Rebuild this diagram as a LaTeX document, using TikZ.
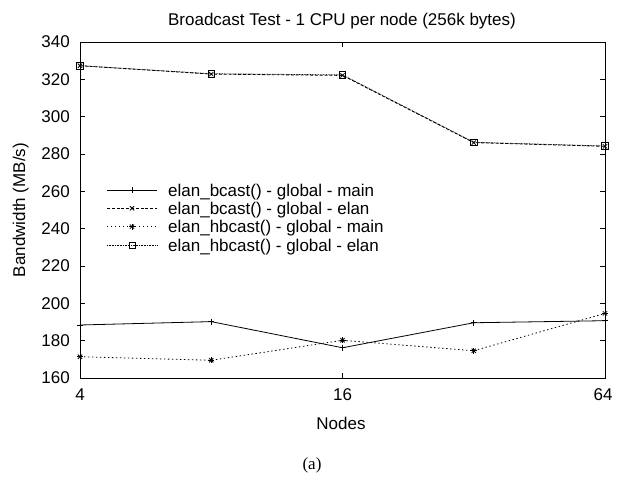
\documentclass[tikz,border=0pt]{standalone}
\usepackage{fontspec}
\setmainfont{Liberation Sans}
\newfontfamily\capfont{Liberation Serif}
\usetikzlibrary{plotmarks}
\tikzset{
  frame/.style={line width=0.9pt, black},
  tickline/.style={line width=0.7pt, black},
  lab/.style={inner sep=0pt, font=\fontsize{17}{20}\selectfont},
  sbm/.style={line width=0.8pt},
  sbe/.style={line width=0.8pt, dash pattern=on 3pt off 1.8pt},
  shm/.style={line width=0.8pt, dash pattern=on 1.4pt off 2.6pt},
  she/.style={line width=0.7pt, dash pattern=on 0.8pt off 0.8pt},
  mk/.style={solid, line width=0.8pt}
}
\begin{document}
\begin{tikzpicture}[x=1pt,y=-1pt]
\useasboundingbox (0,0) rectangle (620,479);
% titles
\node[lab, anchor=base] (title) at (342,25.5) {Broadcast Test - 1 CPU per node (256k bytes)};
\node[lab, anchor=base, rotate=90] (ylab) at (25,210) {Bandwidth (MB/s)};
\node[lab, anchor=base] (xlab) at (341,429) {Nodes};
\node[lab, anchor=base, font=\capfont\fontsize{17}{20}\selectfont] (cap) at (312,469) {(a)};
% y tick labels
\foreach \yy/\l in {42/340,79.3/320,116.7/300,154/280,191.3/260,228.7/240,266/220,303.3/200,340.7/180,378/160}
  \node[lab, anchor=east] (yt\l) at (70,\yy) {\l};
% x tick labels
\node[lab, anchor=base] (xt4) at (80,400.5) {4};
\node[lab, anchor=base] (xt16) at (342.5,400.5) {16};
\node[lab, anchor=base] (xt64) at (603,400.5) {64};
\begin{scope}[shift={(80,378)}, x=131.25pt, y=1.86667pt]
  \draw[frame] (0,0) rectangle (4,180);
  \foreach \v in {20,40,...,160} {
    \draw[tickline] (0,\v) -- ++(5pt,0);
    \draw[tickline] (4,\v) -- ++(-5pt,0);
  }
  \draw[tickline] (2,0) -- ++(0,5pt);
  \draw[tickline] (2,180) -- ++(0,-5pt);
  % bcast main
  \draw[sbm] plot[mark=+, mark size=3pt, mark options={mk}] coordinates {(0,28.4) (1,30.2) (2,16.2) (3,29.6) (4,30.7)};
  % hbcast main
  \draw[shm] plot[mark=+, mark size=3pt, mark options={mk}] coordinates {(0,11.4) (1,9.5) (2,20.2) (3,14.6) (4,34.6)};
  \path plot[only marks, mark=x, mark size=3pt, mark options={mk}] coordinates {(0,11.4) (1,9.5) (2,20.2) (3,14.6) (4,34.6)};
  % bcast elan
  \draw[sbe] plot[mark=x, mark size=3pt, mark options={mk}] coordinates {(0,167.3) (1,162.8) (2,162.1) (3,126.1) (4,124.1)};
  % hbcast elan
  \draw[she] plot[mark=square, mark size=3.3pt, mark options={mk}] coordinates {(0,167.3) (1,163.0) (2,162.4) (3,126.3) (4,124.3)};
\end{scope}
% legend
\draw[sbm] (107,190) -- (157,190);
\path plot[only marks, mark=+, mark size=3pt, mark options={mk}] coordinates {(132,190)};
\node[lab, anchor=base west] (l1) at (168,196) {elan\_bcast() - global - main};
\draw[sbe] (107,208.3) -- (157,208.3);
\path plot[only marks, mark=x, mark size=3pt, mark options={mk}] coordinates {(132,208.3)};
\node[lab, anchor=base west] (l2) at (168,214.3) {elan\_bcast() - global - elan};
\draw[shm] (107,226.6) -- (157,226.6);
\path plot[only marks, mark=+, mark size=3pt, mark options={mk}] coordinates {(132,226.6)};
\path plot[only marks, mark=x, mark size=3pt, mark options={mk}] coordinates {(132,226.6)};
\node[lab, anchor=base west] (l3) at (168,232.6) {elan\_hbcast() - global - main};
\draw[she] (107,245) -- (157,245);
\path plot[only marks, mark=square, mark size=3pt, mark options={mk}] coordinates {(132,245)};
\node[lab, anchor=base west] (l4) at (168,251) {elan\_hbcast() - global - elan};
\end{tikzpicture}
\end{document}
